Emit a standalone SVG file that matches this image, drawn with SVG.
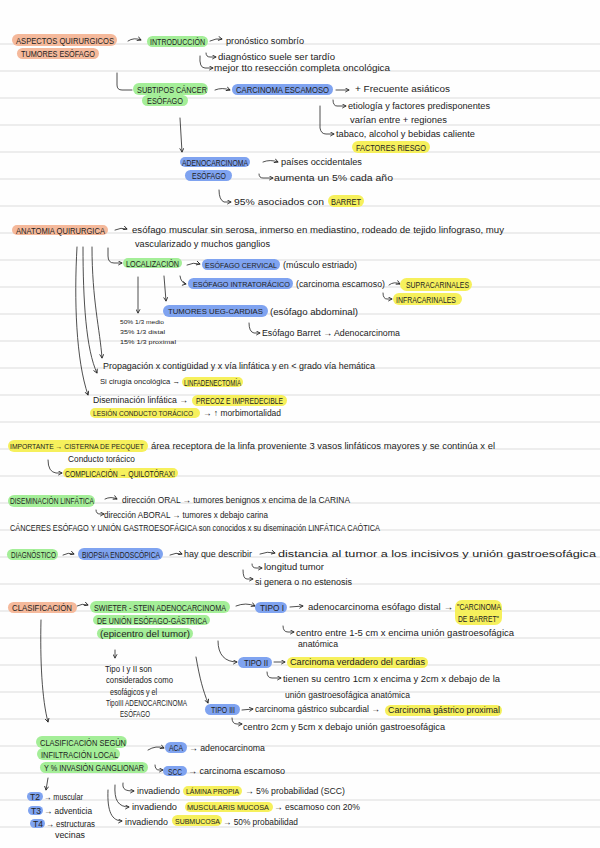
<svg xmlns="http://www.w3.org/2000/svg" width="600" height="848" viewBox="0 0 600 848">
<style>
.bg{fill:#fefefe}
.rule{stroke:#dcdcdc;stroke-width:1.2}
.t{font-family:"Liberation Sans",Arial,sans-serif;font-size:8.5px;fill:#222}
.u{font-family:"Liberation Sans",Arial,sans-serif;font-size:9px;fill:#222}
.s{font-family:"Liberation Sans",Arial,sans-serif;font-size:6px;fill:#222}
.o{fill:#f5b99b}
.g{fill:#a4ee98}
.b{fill:#7fa3f0}
.y{fill:#f6f05c}
.c{fill:none;stroke:#222;stroke-width:0.8;stroke-linecap:round}
.ca{fill:none;stroke:#222;stroke-width:0.8;stroke-linecap:round;marker-end:url(#ah)}
</style>
<defs>
<marker id="ah" viewBox="0 0 6 6" refX="5" refY="3" markerWidth="5" markerHeight="5" markerUnits="userSpaceOnUse" orient="auto">
<path d="M0.5,0.5 L5,3 L0.5,5.5" fill="none" stroke="#222" stroke-width="1"/>
</marker>
</defs>
<rect class="bg" x="0" y="0" width="600" height="848"/>
<g id="rules">
<line class="rule" x1="0" y1="44" x2="600" y2="44"/><line class="rule" x1="0" y1="71" x2="600" y2="71"/><line class="rule" x1="0" y1="98" x2="600" y2="98"/><line class="rule" x1="0" y1="125" x2="600" y2="125"/><line class="rule" x1="0" y1="152" x2="600" y2="152"/><line class="rule" x1="0" y1="179" x2="600" y2="179"/><line class="rule" x1="0" y1="206" x2="600" y2="206"/><line class="rule" x1="0" y1="233" x2="600" y2="233"/><line class="rule" x1="0" y1="260" x2="600" y2="260"/><line class="rule" x1="0" y1="287" x2="600" y2="287"/><line class="rule" x1="0" y1="314" x2="600" y2="314"/><line class="rule" x1="0" y1="341" x2="600" y2="341"/><line class="rule" x1="0" y1="368" x2="600" y2="368"/><line class="rule" x1="0" y1="395" x2="600" y2="395"/><line class="rule" x1="0" y1="422" x2="600" y2="422"/><line class="rule" x1="0" y1="449" x2="600" y2="449"/><line class="rule" x1="0" y1="476" x2="600" y2="476"/><line class="rule" x1="0" y1="503" x2="600" y2="503"/><line class="rule" x1="0" y1="530" x2="600" y2="530"/><line class="rule" x1="0" y1="557" x2="600" y2="557"/><line class="rule" x1="0" y1="584" x2="600" y2="584"/><line class="rule" x1="0" y1="611" x2="600" y2="611"/><line class="rule" x1="0" y1="638" x2="600" y2="638"/><line class="rule" x1="0" y1="665" x2="600" y2="665"/><line class="rule" x1="0" y1="692" x2="600" y2="692"/><line class="rule" x1="0" y1="719" x2="600" y2="719"/><line class="rule" x1="0" y1="746" x2="600" y2="746"/><line class="rule" x1="0" y1="773" x2="600" y2="773"/><line class="rule" x1="0" y1="800" x2="600" y2="800"/><line class="rule" x1="0" y1="827" x2="600" y2="827"/>
</g>
<g id="connectors">
<path class="ca" d="M128 41 q6 -4 13 -1"/>
<path class="ca" d="M210 41 q6 -3 12 -2"/>
<path class="ca" d="M206 53 q0 4 4 4 l6 0"/>
<path class="ca" d="M200 56 q-1 12 5 12 l8 0"/>
<path class="c" d="M117 73 L117 85 q0 5 5 5 l10 0"/>
<path class="ca" d="M215 90 q7 -3 15 0"/>
<path class="ca" d="M336 90 L349 90"/>
<path class="ca" d="M333 100 q0 6 4 6 l9 0"/>
<path class="ca" d="M320 106 L320 128 q1 6 6 6 l8 0"/>
<path class="ca" d="M180 118 L182 152"/>
<path class="ca" d="M263 162 q7 -3 15 0"/>
<path class="ca" d="M259 174 q0 4 4 4 l10 0"/>
<path class="ca" d="M219 190 q0 10 5 12 l7 0"/>
<path class="ca" d="M115 230 q6 -3 12 -1"/>
<path class="ca" d="M108 248 L108 256 q0 7 6 7 l8 0"/>
<path class="ca" d="M187 265 q6 -3 13 -1"/>
<path class="ca" d="M180 276 q1 7 6 8"/>
<path class="ca" d="M389 285 q5 -4 11 -1"/>
<path class="ca" d="M383 293 q0 6 4 6 l5 0"/>
<path class="ca" d="M164 276 L166 301"/>
<path class="ca" d="M138 277 L138 313"/>
<path class="ca" d="M249 323 q0 9 5 10 l6 0"/>
<path class="ca" d="M77 247 C74 300 76 360 88 395"/>
<path class="ca" d="M83 247 C83 300 86 350 97 373"/>
<path class="ca" d="M92 247 C92 300 100 330 102 358"/>
<path class="ca" d="M48 460 q0 12 8 13 l6 0"/>
<path class="ca" d="M105 499 q6 -3 12 0"/>
<path class="ca" d="M96 510 q0 4 4 4 l4 0"/>
<path class="ca" d="M63 555 q5 -3 11 -1"/>
<path class="ca" d="M170 555 q6 -3 12 -1"/>
<path class="ca" d="M260 554 q7 -3 15 -1"/>
<path class="ca" d="M252 564 q0 4 4 4 l6 0"/>
<path class="ca" d="M243 570 q0 9 4 9 l6 0"/>
<path class="ca" d="M77 606 q5 -3 11 -1"/>
<path class="ca" d="M236 606 q10 -4 19 0"/>
<path class="ca" d="M290 607 L303 606"/>
<path class="ca" d="M283 626 q0 6 5 6 l6 0"/>
<path class="ca" d="M115 650 L115 658"/>
<path class="ca" d="M218 641 C218 655 225 662 237 662"/>
<path class="ca" d="M274 662 L285 662"/>
<path class="ca" d="M267 672 q0 6 5 6 l9 0"/>
<path class="ca" d="M196 657 C200 680 203 690 208 703"/>
<path class="ca" d="M242 710 L253 709"/>
<path class="ca" d="M232 718 q0 6 5 6 l5 0"/>
<path class="ca" d="M41 620 C40 660 42 700 48 722"/>
<path class="ca" d="M148 750 q8 -5 16 -2"/>
<path class="ca" d="M155 765 q0 5 4 5 l4 0"/>
<path class="ca" d="M48 778 L46 790"/>
<path class="ca" d="M123 783 C122 790 126 791 134 791"/>
<path class="ca" d="M115 785 C114 800 118 807 129 807"/>
<path class="ca" d="M108 790 C107 812 112 821 122 821"/>
</g>
<g id="aspectos">
<rect class="o" x="12" y="34" width="105" height="12" rx="6"/>
<text class="u" x="16" y="44" textLength="98" lengthAdjust="spacingAndGlyphs">ASPECTOS QUIRURGICOS</text>
<rect class="o" x="17" y="48" width="82" height="11" rx="5.5"/>
<text class="u" x="21" y="57" textLength="74" lengthAdjust="spacingAndGlyphs">TUMORES ESÓFAGO</text>
</g>
<g id="introduccion">
<rect class="g" x="147" y="36" width="61" height="11" rx="5.5"/>
<text class="u" x="150" y="44.5" textLength="55" lengthAdjust="spacingAndGlyphs">INTRODUCCIÓN</text>
<text class="t" x="226" y="44" textLength="78" lengthAdjust="spacingAndGlyphs">pronóstico sombrío</text>
<text class="t" x="218" y="60" textLength="117" lengthAdjust="spacingAndGlyphs">diagnóstico suele ser tardío</text>
<text class="t" x="214" y="71" textLength="176" lengthAdjust="spacingAndGlyphs">mejor tto resección completa oncológica</text>
</g>
<g id="subtipos">
<rect class="g" x="133" y="83" width="75" height="12" rx="6"/>
<text class="u" x="137" y="92.5" textLength="70" lengthAdjust="spacingAndGlyphs">SUBTIPOS CÁNCER</text>
<rect class="g" x="142" y="95" width="46" height="11" rx="5.5"/>
<text class="u" x="147" y="104" textLength="36" lengthAdjust="spacingAndGlyphs">ESÓFAGO</text>
</g>
<g id="escamoso">
<rect class="b" x="232" y="84" width="101" height="11" rx="5.5"/>
<text class="u" x="236" y="93" textLength="93" lengthAdjust="spacingAndGlyphs">CARCINOMA ESCAMOSO</text>
<text class="t" x="355" y="92" textLength="95" lengthAdjust="spacingAndGlyphs">+ Frecuente asiáticos</text>
<text class="t" x="348" y="109" textLength="142" lengthAdjust="spacingAndGlyphs">etiología y factores predisponentes</text>
<text class="t" x="350" y="123" textLength="97" lengthAdjust="spacingAndGlyphs">varían entre + regiones</text>
<text class="t" x="336" y="137" textLength="139" lengthAdjust="spacingAndGlyphs">tabaco, alcohol y bebidas caliente</text>
<rect class="y" x="352" y="141" width="78" height="12" rx="6"/>
<text class="u" x="356" y="150.5" textLength="70" lengthAdjust="spacingAndGlyphs">FACTORES RIESGO</text>
</g>
<g id="adeno">
<rect class="b" x="180" y="157" width="70" height="10" rx="5"/>
<text class="u" x="182" y="165.5" textLength="66" lengthAdjust="spacingAndGlyphs">ADENOCARCINOMA</text>
<rect class="b" x="185" y="170" width="47" height="11" rx="5.5"/>
<text class="u" x="192" y="179" textLength="34" lengthAdjust="spacingAndGlyphs">ESÓFAGO</text>
<text class="t" x="281" y="165" textLength="81" lengthAdjust="spacingAndGlyphs">países occidentales</text>
<text class="t" x="274" y="181" textLength="119" lengthAdjust="spacingAndGlyphs">aumenta un 5% cada año</text>
<rect class="y" x="328" y="195" width="36" height="12" rx="6"/>
<text class="t" x="234" y="205" textLength="90" lengthAdjust="spacingAndGlyphs">95% asociados con</text>
<text class="u" x="331" y="205" textLength="30" lengthAdjust="spacingAndGlyphs">BARRET</text>
</g>
<g id="anatomia">
<rect class="o" x="12" y="225" width="96" height="10" rx="5"/>
<text class="u" x="16" y="233.5" textLength="89" lengthAdjust="spacingAndGlyphs">ANATOMIA QUIRURGICA</text>
<text class="t" x="132" y="233" textLength="372" lengthAdjust="spacingAndGlyphs">esófago muscular sin serosa, inmerso en mediastino, rodeado de tejido linfograso, muy</text>
<text class="t" x="135" y="247" textLength="135" lengthAdjust="spacingAndGlyphs">vascularizado y muchos ganglios</text>
</g>
<g id="localizacion">
<rect class="g" x="123" y="258" width="59" height="10" rx="5"/>
<text class="u" x="126" y="266.5" textLength="53" lengthAdjust="spacingAndGlyphs">LOCALIZACIÓN</text>
<rect class="b" x="202" y="259" width="78" height="11" rx="5.5"/>
<text class="u" x="205" y="267.8" style="font-size:7.5px" textLength="72" lengthAdjust="spacingAndGlyphs">ESÓFAGO CERVICAL</text>
<text class="t" x="283" y="268" textLength="74" lengthAdjust="spacingAndGlyphs">(músculo estriado)</text>
<rect class="b" x="188" y="278" width="105" height="11" rx="5.5"/>
<text class="u" x="193" y="286.8" style="font-size:7.5px" textLength="97" lengthAdjust="spacingAndGlyphs">ESÓFAGO INTRATORÁCICO</text>
<text class="t" x="296" y="287" textLength="89" lengthAdjust="spacingAndGlyphs">(carcinoma escamoso)</text>
<rect class="y" x="400" y="278" width="72" height="13" rx="6.5"/>
<text class="u" x="406" y="288" textLength="63" lengthAdjust="spacingAndGlyphs">SUPRACARINALES</text>
<rect class="y" x="393" y="293" width="69" height="12" rx="6"/>
<text class="u" x="396" y="302.5" textLength="60" lengthAdjust="spacingAndGlyphs">INFRACARINALES</text>
<rect class="b" x="163" y="305" width="105" height="12" rx="6"/>
<text class="u" x="168" y="314.3" style="font-size:8px" textLength="95" lengthAdjust="spacingAndGlyphs">TUMORES UEG-CARDIAS</text>
<text class="t" x="270" y="315" textLength="88" lengthAdjust="spacingAndGlyphs">(esófago abdominal)</text>
<text class="t" x="262" y="336" textLength="138" lengthAdjust="spacingAndGlyphs">Esófago Barret → Adenocarcinoma</text>
<text class="s" x="120" y="324" textLength="44" lengthAdjust="spacingAndGlyphs">50% 1/3 medio</text>
<text class="s" x="120" y="334" textLength="45" lengthAdjust="spacingAndGlyphs">35% 1/3 distal</text>
<text class="s" x="120" y="344" textLength="56" lengthAdjust="spacingAndGlyphs">15% 1/3 proximal</text>
</g>
<g id="propagacion">
<text class="t" x="103" y="369" textLength="272" lengthAdjust="spacingAndGlyphs">Propagación x contigüidad y x vía linfática y en &lt; grado vía hemática</text>
<text class="t" x="100" y="384" style="font-size:7.5px" textLength="80" lengthAdjust="spacingAndGlyphs">Si cirugía oncológica →</text>
<rect class="y" x="182" y="377" width="61" height="10" rx="5"/>
<text class="u" x="184" y="385.5" textLength="57" lengthAdjust="spacingAndGlyphs">LINFADENECTOMÍA</text>
<text class="t" x="93" y="403" textLength="95" lengthAdjust="spacingAndGlyphs">Diseminación linfática →</text>
<rect class="y" x="192" y="395" width="95" height="11" rx="5.5"/>
<text class="u" x="196" y="404" textLength="87" lengthAdjust="spacingAndGlyphs">PRECOZ E IMPREDECIBLE</text>
<rect class="y" x="90" y="408" width="110" height="10" rx="5"/>
<text class="u" x="93" y="415.8" style="font-size:7.2px" textLength="100" lengthAdjust="spacingAndGlyphs">LESIÓN CONDUCTO TORÁCICO</text>
<text class="t" x="203" y="416" textLength="78" lengthAdjust="spacingAndGlyphs">→ ↑ morbimortalidad</text>
</g>
<g id="importante">
<rect class="y" x="8" y="440" width="140" height="12" rx="6"/>
<text class="u" x="10" y="448.6" style="font-size:7px" textLength="134" lengthAdjust="spacingAndGlyphs">IMPORTANTE → CISTERNA DE PECQUET</text>
<text class="t" x="151" y="449" textLength="344" lengthAdjust="spacingAndGlyphs">área receptora de la linfa proveniente 3 vasos linfáticos mayores y se continúa x el</text>
<text class="t" x="68" y="462" textLength="67" lengthAdjust="spacingAndGlyphs">Conducto torácico</text>
<rect class="y" x="63" y="468" width="115" height="10" rx="5"/>
<text class="u" x="65" y="476.5" textLength="110" lengthAdjust="spacingAndGlyphs">COMPLICACIÓN → QUILOTÓRAX!</text>
</g>
<g id="diseminacion">
<rect class="g" x="8" y="495" width="87" height="12" rx="6"/>
<text class="u" x="10" y="504" style="font-size:8.5px" textLength="84" lengthAdjust="spacingAndGlyphs">DISEMINACIÓN LINFÁTICA</text>
<text class="t" x="122" y="503" textLength="228" lengthAdjust="spacingAndGlyphs">dirección ORAL → tumores benignos x encima de la CARINA</text>
<text class="t" x="104" y="518" textLength="164" lengthAdjust="spacingAndGlyphs">dirección ABORAL → tumores x debajo carina</text>
<text class="t" x="10" y="531" textLength="370" lengthAdjust="spacingAndGlyphs">CÁNCERES ESÓFAGO Y UNIÓN GASTROESOFÁGICA son conocidos x su diseminación LINFÁTICA CAÓTICA</text>
</g>
<g id="diagnostico">
<rect class="g" x="7" y="549" width="51" height="11" rx="5.5"/>
<text class="u" x="11" y="558" textLength="45" lengthAdjust="spacingAndGlyphs">DIAGNÓSTICO</text>
<rect class="b" x="78" y="548" width="85" height="12" rx="6"/>
<text class="u" x="82" y="557.5" style="font-size:8.3px" textLength="78" lengthAdjust="spacingAndGlyphs">BIOPSIA ENDOSCÓPICA</text>
<text class="t" x="184" y="557" textLength="68" lengthAdjust="spacingAndGlyphs">hay que describir</text>
<text class="t" x="278" y="557" textLength="318" lengthAdjust="spacingAndGlyphs">distancia al tumor a los incisivos y unión gastroesofágica</text>
<text class="t" x="264" y="570" textLength="60" lengthAdjust="spacingAndGlyphs">longitud tumor</text>
<text class="t" x="255" y="585" textLength="97" lengthAdjust="spacingAndGlyphs">si genera o no estenosis</text>
</g>
<g id="clasificacion">
<rect class="o" x="8" y="602" width="69" height="11" rx="5.5"/>
<text class="u" x="12" y="611" textLength="60" lengthAdjust="spacingAndGlyphs">CLASIFICACIÓN</text>
<rect class="g" x="90" y="601" width="140" height="12" rx="6"/>
<text class="u" x="94" y="610.5" style="font-size:8.5px" textLength="132" lengthAdjust="spacingAndGlyphs">SWIETER - STEIN ADENOCARCINOMA</text>
<rect class="g" x="93" y="615" width="117" height="10" rx="5"/>
<text class="u" x="97" y="623.5" textLength="110" lengthAdjust="spacingAndGlyphs">DE UNIÓN ESÓFAGO-GÁSTRICA</text>
<rect class="g" x="97" y="628" width="96" height="11" rx="5.5"/>
<text class="t" x="100" y="637" textLength="90" lengthAdjust="spacingAndGlyphs">(epicentro del tumor)</text>
<text class="t" x="105" y="672" textLength="47" lengthAdjust="spacingAndGlyphs">Tipo I y II son</text>
<text class="t" x="106" y="683" textLength="67" lengthAdjust="spacingAndGlyphs">considerados como</text>
<text class="t" x="110" y="695" textLength="47" lengthAdjust="spacingAndGlyphs">esofágicos y el</text>
<text class="t" x="106" y="706" textLength="81" lengthAdjust="spacingAndGlyphs">TipoIII ADENOCARCINOMA</text>
<text class="t" x="120" y="717" textLength="30" lengthAdjust="spacingAndGlyphs">ESÓFAGO</text>
</g>
<g id="tipo1">
<rect class="b" x="255" y="602" width="32" height="11" rx="5.5"/>
<text class="u" x="260" y="611" textLength="24" lengthAdjust="spacingAndGlyphs">TIPO I</text>
<text class="t" x="308" y="610" textLength="145" lengthAdjust="spacingAndGlyphs">adenocarcinoma esófago distal →</text>
<rect class="y" x="455" y="600" width="47" height="25" rx="7"/>
<text class="u" x="457" y="610" textLength="44" lengthAdjust="spacingAndGlyphs">"CARCINOMA</text>
<text class="u" x="458" y="622" textLength="41" lengthAdjust="spacingAndGlyphs">DE BARRET"</text>
<text class="t" x="296" y="636" textLength="218" lengthAdjust="spacingAndGlyphs">centro entre 1-5 cm x encima unión gastroesofágica</text>
<text class="t" x="298" y="647" textLength="40" lengthAdjust="spacingAndGlyphs">anatómica</text>
</g>
<g id="tipo2">
<rect class="b" x="238" y="657" width="34" height="11" rx="5.5"/>
<text class="u" x="244" y="666" textLength="24" lengthAdjust="spacingAndGlyphs">TIPO II</text>
<rect class="y" x="287" y="657" width="141" height="11" rx="5.5"/>
<text class="t" x="290" y="665" textLength="135" lengthAdjust="spacingAndGlyphs">Carcinoma verdadero del cardias</text>
<text class="t" x="283" y="682" textLength="217" lengthAdjust="spacingAndGlyphs">tienen su centro 1cm x encima y 2cm x debajo de la</text>
<text class="t" x="285" y="698" textLength="125" lengthAdjust="spacingAndGlyphs">unión gastroesofágica anatómica</text>
</g>
<g id="tipo3">
<rect class="b" x="205" y="704" width="35" height="11" rx="5.5"/>
<text class="u" x="211" y="713" textLength="24" lengthAdjust="spacingAndGlyphs">TIPO III</text>
<text class="t" x="255" y="712" textLength="125" lengthAdjust="spacingAndGlyphs">carcinoma gástrico subcardial →</text>
<rect class="y" x="385" y="705" width="117" height="11" rx="5.5"/>
<text class="t" x="388" y="713" textLength="112" lengthAdjust="spacingAndGlyphs">Carcinoma gástrico proximal</text>
<text class="t" x="243" y="730" textLength="202" lengthAdjust="spacingAndGlyphs">centro 2cm y 5cm x debajo unión gastroesofágica</text>
</g>
<g id="infiltracion">
<rect class="g" x="36" y="736" width="91" height="12" rx="6"/>
<text class="u" x="40" y="745.5" textLength="86" lengthAdjust="spacingAndGlyphs">CLASIFICACIÓN SEGÚN</text>
<rect class="g" x="37" y="748" width="83" height="12" rx="6"/>
<text class="u" x="41" y="757.5" textLength="77" lengthAdjust="spacingAndGlyphs">INFILTRACIÓN LOCAL</text>
<rect class="g" x="40" y="762" width="108" height="11" rx="5.5"/>
<text class="u" x="44" y="770.8" style="font-size:8.5px" textLength="100" lengthAdjust="spacingAndGlyphs">Y % INVASIÓN GANGLIONAR</text>
</g>
<g id="aca">
<rect class="b" x="165" y="742" width="22" height="11" rx="5.5"/>
<text class="u" x="169" y="751" textLength="14" lengthAdjust="spacingAndGlyphs">ACA</text>
<text class="t" x="189" y="751" textLength="76" lengthAdjust="spacingAndGlyphs">→ adenocarcinoma</text>
</g>
<g id="scc">
<rect class="b" x="163" y="766" width="24" height="10" rx="5"/>
<text class="u" x="168" y="774.5" textLength="14" lengthAdjust="spacingAndGlyphs">SCC</text>
<text class="t" x="188" y="774" textLength="97" lengthAdjust="spacingAndGlyphs">→ carcinoma escamoso</text>
</g>
<g id="tstages">
<rect class="b" x="27" y="792" width="16" height="9" rx="4.5"/>
<text class="u" x="30" y="800" textLength="10" lengthAdjust="spacingAndGlyphs">T2</text>
<text class="t" x="44" y="800" textLength="39" lengthAdjust="spacingAndGlyphs">→ muscular</text>
<rect class="b" x="28" y="806" width="15" height="9" rx="4.5"/>
<text class="u" x="31" y="814" textLength="10" lengthAdjust="spacingAndGlyphs">T3</text>
<text class="t" x="44" y="814" textLength="48" lengthAdjust="spacingAndGlyphs">→ adventicia</text>
<rect class="b" x="30" y="819" width="15" height="9" rx="4.5"/>
<text class="u" x="33" y="827" textLength="10" lengthAdjust="spacingAndGlyphs">T4</text>
<text class="t" x="46" y="827" textLength="49" lengthAdjust="spacingAndGlyphs">→ estructuras</text>
<text class="t" x="55" y="838" textLength="30" lengthAdjust="spacingAndGlyphs">vecinas</text>
</g>
<g id="invadiendo">
<text class="t" x="137" y="794" textLength="43" lengthAdjust="spacingAndGlyphs">invadiendo</text>
<rect class="y" x="183" y="786" width="59" height="10" rx="5"/>
<text class="u" x="186" y="794" style="font-size:7.4px" textLength="53" lengthAdjust="spacingAndGlyphs">LÁMINA PROPIA</text>
<text class="t" x="245" y="794" textLength="100" lengthAdjust="spacingAndGlyphs">→ 5% probabilidad (SCC)</text>
<text class="t" x="132" y="810" textLength="45" lengthAdjust="spacingAndGlyphs">invadiendo</text>
<rect class="y" x="185" y="802" width="88" height="10" rx="5"/>
<text class="u" x="187" y="810" style="font-size:7.6px" textLength="82" lengthAdjust="spacingAndGlyphs">MUSCULARIS MUCOSA</text>
<text class="t" x="274" y="810" textLength="86" lengthAdjust="spacingAndGlyphs">→ escamoso con 20%</text>
<text class="t" x="125" y="825" textLength="43" lengthAdjust="spacingAndGlyphs">invadiendo</text>
<rect class="y" x="172" y="815" width="50" height="11" rx="5.5"/>
<text class="u" x="175" y="823.5" style="font-size:7.3px" textLength="45" lengthAdjust="spacingAndGlyphs">SUBMUCOSA</text>
<text class="t" x="223" y="825" textLength="75" lengthAdjust="spacingAndGlyphs">→ 50% probabilidad</text>
</g>
</svg>
